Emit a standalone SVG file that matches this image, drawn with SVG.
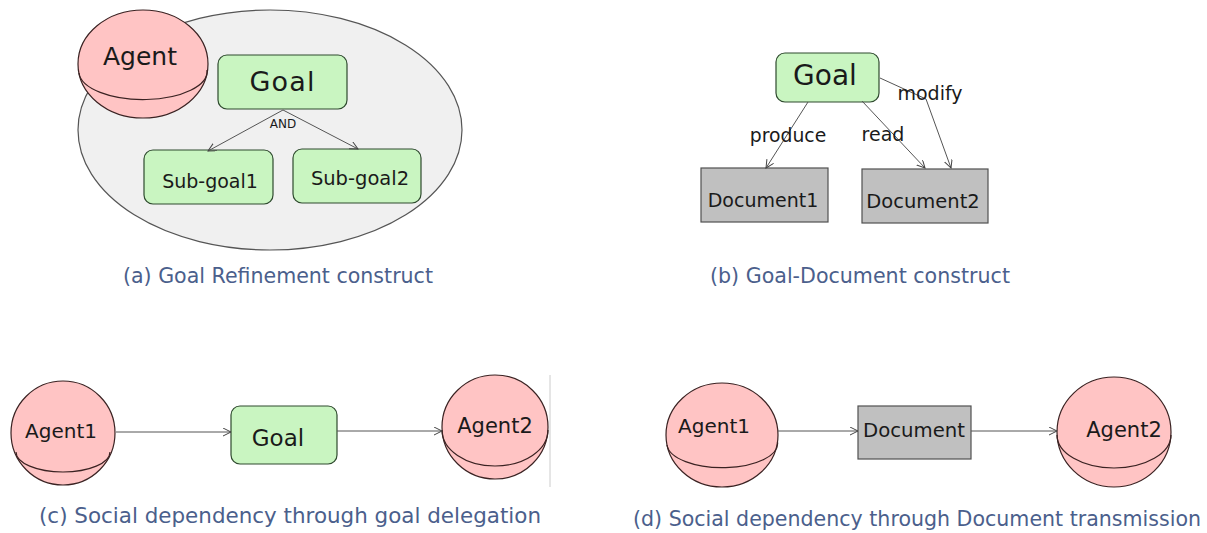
<svg xmlns="http://www.w3.org/2000/svg" width="1207" height="533" viewBox="0 0 1207 533">
<defs>
<marker id="arr" markerWidth="10" markerHeight="10" refX="8" refY="4" orient="auto" markerUnits="userSpaceOnUse">
<path d="M0,0 L8,4 L0,8" fill="none" stroke="#444" stroke-width="1"/>
</marker>
<style>
.agent{fill:#ffc4c4;stroke:#3a2222;stroke-width:1.2}
.eq{fill:none;stroke:#3a2222;stroke-width:1.2}
.goal{fill:#c9f5c1;stroke:#2e4a2e;stroke-width:1.2}
.doc{fill:#c0c0c0;stroke:#505050;stroke-width:1.2}
.t{font-family:"DejaVu Sans",sans-serif;fill:#1a1a1a;text-anchor:middle}
.cap{font-family:"DejaVu Sans",sans-serif;fill:#4b5f8c;font-size:20.5px}
.conn line,.conn polyline{stroke:#555;stroke-width:1;fill:none;marker-end:url(#arr)}
</style>
</defs>
<rect width="1207" height="533" fill="#ffffff"/>

<!-- Panel (a) -->
<g id="a-boundary"><ellipse cx="270" cy="130" rx="192" ry="120" fill="#f0f0f0" stroke="#555" stroke-width="1.2"/></g>
<g id="a-agent">
<ellipse class="agent" cx="143" cy="64" rx="65" ry="54"/>
<path class="eq" d="M79,73 A64,28 0 0 0 207,70"/>
<text class="t" x="140" y="65" font-size="25">Agent</text>
</g>
<g id="a-goal"><rect class="goal" x="218" y="55" width="129" height="54" rx="9"/><text class="t" x="282" y="91" font-size="27" textLength="65">Goal</text></g>
<g id="a-sub1"><rect class="goal" x="144" y="150" width="129" height="54" rx="9"/><text class="t" x="210" y="188" font-size="19">Sub-goal1</text></g>
<g id="a-sub2"><rect class="goal" x="293" y="149" width="128" height="54" rx="9"/><text class="t" x="360" y="185" font-size="19.5">Sub-goal2</text></g>

<!-- Panel (b) -->
<g id="b-goal"><rect class="goal" x="776" y="53" width="103" height="49" rx="9"/><text class="t" x="825" y="85" font-size="28">Goal</text></g>
<g id="b-doc1"><rect class="doc" x="701" y="168" width="127" height="54"/><text class="t" x="763" y="207" font-size="19">Document1</text></g>
<g id="b-doc2"><rect class="doc" x="862" y="169" width="126" height="54"/><text class="t" x="923" y="208" font-size="19.5">Document2</text></g>

<!-- Panel (c) -->
<g id="c-agent1">
<ellipse class="agent" cx="63" cy="433" rx="52" ry="52"/>
<path class="eq" d="M16,452 A47,20 0 0 0 110,452"/>
<text class="t" x="61" y="438" font-size="20">Agent1</text>
</g>
<g id="c-goal"><rect class="goal" x="231" y="406" width="106" height="58" rx="9"/><text class="t" x="278" y="446" font-size="23">Goal</text></g>
<g id="c-agent2">
<ellipse class="agent" cx="495" cy="427" rx="53" ry="52"/>
<path class="eq" d="M442,430 A53,36 0 0 0 548,430"/>
<text class="t" x="495" y="433" font-size="21">Agent2</text>
</g>
<line x1="550" y1="375" x2="550" y2="487" stroke="#cccccc" stroke-width="1"/>

<!-- Panel (d) -->
<g id="d-agent1">
<ellipse class="agent" cx="722" cy="435" rx="56" ry="52"/>
<path class="eq" d="M667,445 A55,24 0 0 0 777.5,442"/>
<text class="t" x="714" y="433" font-size="20">Agent1</text>
</g>
<g id="d-doc"><rect class="doc" x="858" y="406" width="113" height="53"/><text class="t" x="914" y="437" font-size="19.7">Document</text></g>
<g id="d-agent2">
<ellipse class="agent" cx="1114" cy="432" rx="57" ry="55"/>
<path class="eq" d="M1057,435 A57,33 0 0 0 1171,435"/>
<text class="t" x="1124" y="437" font-size="21">Agent2</text>
</g>

<!-- Connectors -->
<g id="connectors" class="conn">
<line x1="283" y1="110" x2="208" y2="151"/>
<line x1="283" y1="110" x2="358" y2="149"/>
<line x1="808" y1="102" x2="766" y2="168"/>
<line x1="862" y1="101" x2="925" y2="168"/>
<polyline points="880,78 926,99 951,168"/>
<line x1="116" y1="432" x2="231" y2="432"/>
<line x1="337" y1="431" x2="442" y2="431"/>
<line x1="778" y1="431" x2="858" y2="431"/>
<line x1="971" y1="431" x2="1057" y2="431"/>
</g>
<g id="connector-labels">
<text class="t" x="283" y="128" font-size="12">AND</text>
<text class="t" x="788" y="142" font-size="18.8">produce</text>
<text class="t" x="883" y="141" font-size="19">read</text>
<text class="t" x="930" y="100" font-size="19">modify</text>
</g>

<!-- Captions -->
<g id="captions">
<text class="cap" x="123" y="283" textLength="310" lengthAdjust="spacingAndGlyphs">(a) Goal Refinement construct</text>
<text class="cap" x="710" y="283" textLength="300" lengthAdjust="spacingAndGlyphs">(b) Goal-Document construct</text>
<text class="cap" x="39" y="523" textLength="502" lengthAdjust="spacingAndGlyphs">(c) Social dependency through goal delegation</text>
<text class="cap" x="633" y="526" textLength="568" lengthAdjust="spacingAndGlyphs">(d) Social dependency through Document transmission</text>
</g>
</svg>
